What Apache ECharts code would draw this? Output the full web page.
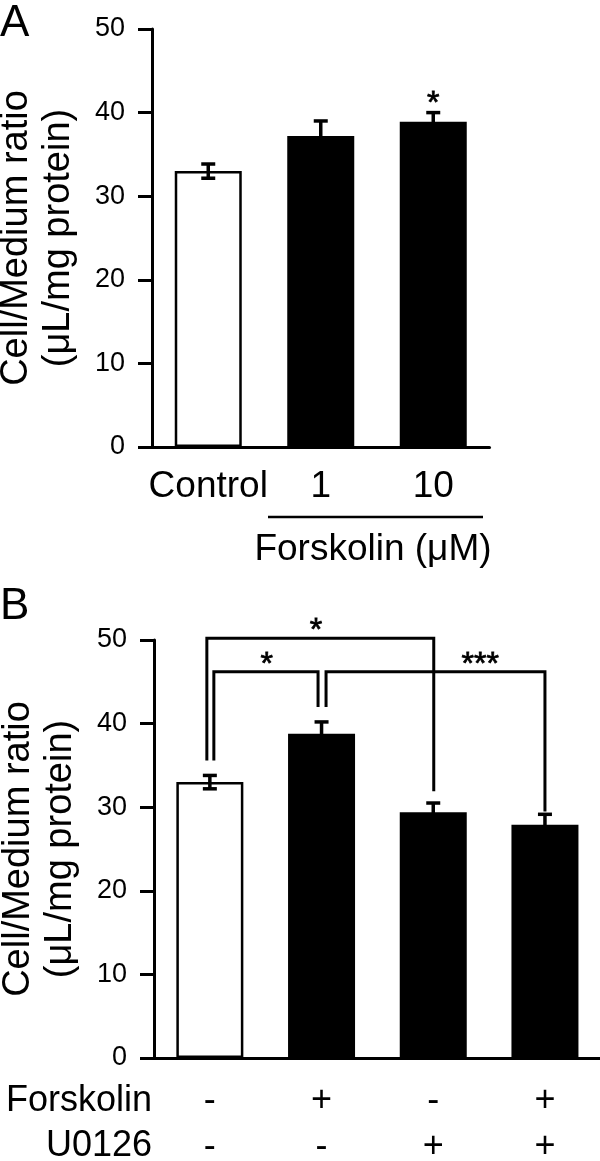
<!DOCTYPE html>
<html><head><meta charset="utf-8">
<script src="https://cdn.jsdelivr.net/npm/echarts@6/dist/echarts.min.js"></script>
<style>html,body{margin:0;padding:0;background:#fff}#c{width:600px;height:1161px}</style>
</head><body><div id="c"></div>
<script>
// ---- Panel A data ----
const catA = ['Control', '1', '10'];
const meanA = [33.0, 37.2, 38.9];
const errA = [0.85, 1.8, 1.1];
const sigA = ['', '', '*'];
// ---- Panel B data ----
const forskolinB = ['-', '+', '-', '+'];
const u0126B = ['-', '-', '+', '+'];
const meanB = [33.0, 38.8, 29.4, 27.9];
const errB = [0.8, 1.4, 1.1, 1.25];
// significance brackets in panel B (category indices and y values)
const bracketFrom = [0, 0, 1];
const bracketTo = [2, 1, 3];
const bracketTop = [50.2, 46.2, 46.2];
const bracketFromEnd = [35.6, 35.6, 42.0];
const bracketToEnd = [31.9, 42.0, 29.5];
const bracketMark = ['*', '*', '***'];
const bracketMarkAt = [0.95, 0.51, 2.42];
// ---- axis ----
const yMin = 0, yMax = 50, yStep = 10;
const yTitle = 'Cell/Medium ratio\n(\u03bcL/mg protein)';

const FONT = 'Liberation Sans, Arial, sans-serif';
const catB = forskolinB.map((f, i) => f + '\n' + u0126B[i]);

const chart = echarts.init(document.getElementById('c'), null, {renderer: 'canvas'});

function errRender(sigs) {
  return function (params, api) {
    const i = api.value(0), m = api.value(1), e = api.value(2);
    const top = api.coord([i, m + e]);
    const bot = api.coord([i, m - e]);
    const hw = 7;
    const st = {stroke: '#000', lineWidth: 3.5};
    const ch = [
      {type: 'line', shape: {x1: top[0], y1: top[1], x2: bot[0], y2: bot[1]}, style: st},
      {type: 'line', shape: {x1: top[0] - hw, y1: top[1], x2: top[0] + hw, y2: top[1]}, style: st},
      {type: 'line', shape: {x1: bot[0] - hw, y1: bot[1], x2: bot[0] + hw, y2: bot[1]}, style: st}
    ];
    const s = sigs ? sigs[params.dataIndex] : '';
    if (s) ch.push({type: 'text', style: {text: s, x: top[0], y: top[1] - 8, align: 'center', verticalAlign: 'middle',
      fontSize: 32, fontFamily: FONT, fill: '#000', stroke: '#000', lineWidth: 0.8}});
    return {type: 'group', children: ch};
  };
}

// leg pixel nudges so that brackets sharing a bar do not overlap (style only)
const legNudge = [[-3, 0.5], [4, -3.5], [4.5, 0]];
function bracketRender(params, api) {
  const k = params.dataIndex;
  const f = api.value(0), t = api.value(1), top = api.value(2), fe = api.value(3), te = api.value(4);
  const pTopF = api.coord([f, top]), pTopT = api.coord([t, top]);
  const pF = api.coord([f, fe]), pT = api.coord([t, te]);
  const xF = pTopF[0] + legNudge[k][0], xT = pTopT[0] + legNudge[k][1];
  const st = {stroke: '#000', lineWidth: 3, lineJoin: 'miter', fill: null};
  const at = bracketMarkAt[k];
  const a0 = api.coord([Math.floor(at), top])[0], a1 = api.coord([Math.floor(at) + 1, top])[0];
  const lx = a0 + (a1 - a0) * (at - Math.floor(at));
  return {type: 'group', children: [
    {type: 'polyline', shape: {points: [[xF, pF[1]], [xF, pTopF[1]], [xT, pTopT[1]], [xT, pT[1]]]}, style: st},
    {type: 'text', style: {text: bracketMark[k], x: lx, y: pTopF[1] - 7, align: 'center', verticalAlign: 'middle',
      fontSize: 32, fontFamily: FONT, fill: '#000', stroke: '#000', lineWidth: 0.8}}
  ]};
}

function yAxis(gi) {
  return {
    gridIndex: gi, type: 'value', min: yMin, max: yMax, interval: yStep,
    name: yTitle, nameLocation: 'middle', nameRotate: 90, nameGap: 72, nameMoveOverlap: false,
    nameTextStyle: {fontSize: 38, lineHeight: 42, fontFamily: FONT, color: '#000', align: 'center'},
    axisLine: {show: true, lineStyle: {color: '#000', width: 3}},
    axisTick: {show: true, length: 14, lineStyle: {color: '#000', width: 3}},
    axisLabel: {fontSize: 27, fontFamily: FONT, color: '#000', margin: 27},
    splitLine: {show: false}
  };
}

const option = {
  backgroundColor: '#fff',
  animation: false,
  grid: [
    {left: 152, top: 29, width: 337.5, height: 418, outerBoundsMode: 'none', containLabel: false},
    {left: 154, top: 640, width: 446.8, height: 418, outerBoundsMode: 'none', containLabel: false}
  ],
  xAxis: [
    {gridIndex: 0, type: 'category', data: catA,
      axisLine: {lineStyle: {color: '#000', width: 3}}, axisTick: {show: false},
      axisLabel: {fontSize: 37, fontFamily: FONT, color: '#000', margin: 21, interval: 0}},
    {gridIndex: 1, type: 'category', data: catB,
      axisLine: {lineStyle: {color: '#000', width: 3}}, axisTick: {show: false},
      axisLabel: {fontSize: 36, lineHeight: 46, fontFamily: FONT, color: '#000', margin: 20, interval: 0}}
  ],
  yAxis: [yAxis(0), yAxis(1)],
  series: [
    {type: 'bar', xAxisIndex: 0, yAxisIndex: 0, barWidth: 67,
      data: meanA.map((v, i) => ({value: v, itemStyle: i === 0 ? {color: '#fff', borderColor: '#000', borderWidth: 2.5} : {color: '#000'}}))},
    {type: 'custom', xAxisIndex: 0, yAxisIndex: 0, renderItem: errRender(sigA), z: 5,
      encode: {x: 0, y: 1}, data: meanA.map((v, i) => [i, v, errA[i]])},
    {type: 'bar', xAxisIndex: 1, yAxisIndex: 1, barWidth: 67,
      data: meanB.map((v, i) => ({value: v, itemStyle: i === 0 ? {color: '#fff', borderColor: '#000', borderWidth: 2.5} : {color: '#000'}}))},
    {type: 'custom', xAxisIndex: 1, yAxisIndex: 1, renderItem: errRender(null), z: 5,
      encode: {x: 0, y: 1}, data: meanB.map((v, i) => [i, v, errB[i]])},
    {type: 'custom', xAxisIndex: 1, yAxisIndex: 1, renderItem: bracketRender, z: 6, clip: false,
      encode: {x: [0, 1], y: [2, 3, 4]},
      data: bracketFrom.map((f, i) => [f, bracketTo[i], bracketTop[i], bracketFromEnd[i], bracketToEnd[i]])}
  ],
  graphic: [
    {type: 'text', left: 0, top: 2, style: {text: 'A', fontSize: 44, fontFamily: FONT, fill: '#000'}},
    {type: 'text', left: 0, top: 585, style: {text: 'B', fontSize: 44, fontFamily: FONT, fill: '#000'}},
    {type: 'line', shape: {x1: 268, y1: 517, x2: 483, y2: 517}, style: {stroke: '#000', lineWidth: 2.5}},
    {type: 'text', x: 373, y: 550, style: {text: 'Forskolin (\u03bcM)', fontSize: 37, fontFamily: FONT, fill: '#000', align: 'center', verticalAlign: 'middle'}},
    {type: 'text', x: 152, y: 1101, style: {text: 'Forskolin', fontSize: 36, fontFamily: FONT, fill: '#000', align: 'right', verticalAlign: 'middle'}},
    {type: 'text', x: 152, y: 1146, style: {text: 'U0126', fontSize: 36, fontFamily: FONT, fill: '#000', align: 'right', verticalAlign: 'middle'}}
  ]
};
chart.setOption(option);
</script>
</body></html>
